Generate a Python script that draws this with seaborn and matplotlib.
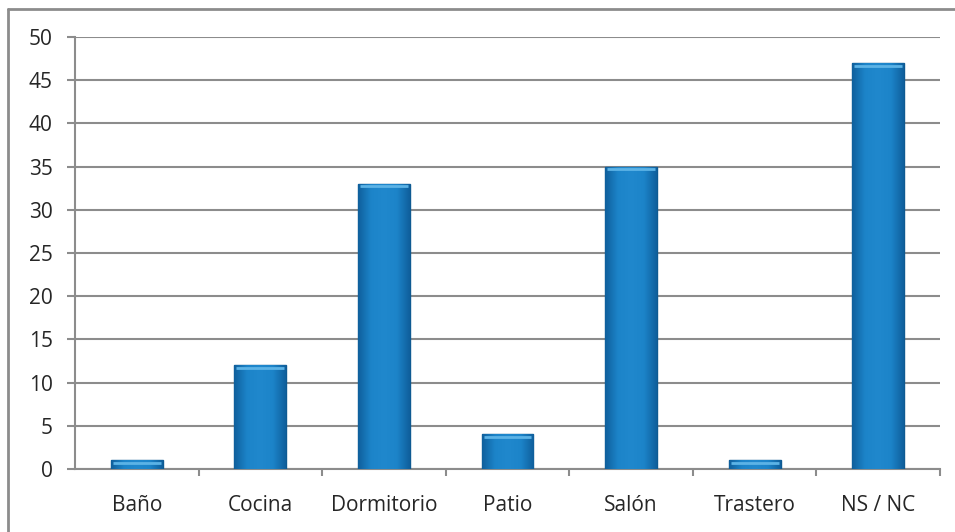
import matplotlib
matplotlib.use("Agg")
import matplotlib.pyplot as plt
import seaborn as sns
import numpy as np
import pandas as pd
from matplotlib.lines import Line2D
from matplotlib.colors import LinearSegmentedColormap

categories = ["Baño", "Cocina", "Dormitorio", "Patio", "Salón", "Trastero", "NS / NC"]
values = [1, 12, 33, 4, 35, 1, 47]
yticks = [0, 5, 10, 15, 20, 25, 30, 35, 40, 45, 50]

sns.set_theme(style="white")
plt.rcParams['font.family'] = ['Open Sans', 'DejaVu Sans']

df = pd.DataFrame({"cat": categories, "val": values})

fig = plt.figure(figsize=(9.55, 5.32), dpi=100)
ax = fig.add_axes([75/955, 1-469/532, (940-75)/955, (469-37)/532])

sns.barplot(data=df, x="cat", y="val", color="#1b80c6", width=0.42,
            edgecolor="#0e5a92", linewidth=1.0, ax=ax, zorder=3, saturation=1)

ax.set_ylim(0, 50)
ax.set_xlim(-0.5, len(categories) - 0.5)
ax.set_yticks(yticks)
ax.set_xlabel("")
ax.set_ylabel("")

# gradient overlay on bars
cmap = LinearSegmentedColormap.from_list("bev", ["#0f5f9c", "#1c84c9", "#2088cd", "#1c84c9", "#0f5f9c"])
grad = np.linspace(0, 1, 256).reshape(1, -1)
for p in ax.patches:
    x0, y0 = p.get_x(), p.get_y()
    w, h = p.get_width(), p.get_height()
    im = ax.imshow(grad, cmap=cmap, extent=[x0, x0 + w, y0, y0 + h], aspect="auto",
                   zorder=3.5, interpolation="bicubic")
    im.set_clip_path(p)
    # top bevel highlight
    ax.add_line(Line2D([x0 + w*0.04, x0 + w*0.96], [y0 + h - 0.3, y0 + h - 0.3],
                       color="#5cb3e6", lw=2, zorder=4, solid_capstyle="butt"))
ax.set_xlim(-0.5, len(categories) - 0.5)
ax.set_ylim(0, 50)

ax.yaxis.grid(True, color="#8c8c8c", linewidth=1.5, zorder=0)
ax.xaxis.grid(False)
for s in ["top", "right"]:
    ax.spines[s].set_visible(False)
ax.spines["left"].set_color("#8c8c8c")
ax.spines["left"].set_linewidth(1.5)
ax.spines["bottom"].set_color("#8c8c8c")
ax.spines["bottom"].set_linewidth(1.5)

# category boundary ticks
ax.set_xticks(np.arange(len(categories)))
ax.set_xticklabels(categories)
ax.set_xticks(np.arange(len(categories)) + 0.5, minor=True)
ax.tick_params(axis="x", which="major", length=0, pad=19, labelsize=15, labelcolor="#262626")
ax.tick_params(axis="x", which="minor", length=5, width=1.5, color="#8c8c8c", direction="out", bottom=True)
ax.tick_params(axis="y", length=6, width=1.5, color="#8c8c8c", direction="out", left=True,
               pad=10, labelsize=15, labelcolor="#262626")

# outer chart border (left and top visible)
fig.add_artist(Line2D([8/955, 8/955], [0, 1-9/532], transform=fig.transFigure,
                      color="#8c8c8c", lw=2))
fig.add_artist(Line2D([8/955, 1], [1-9/532, 1-9/532], transform=fig.transFigure,
                      color="#8c8c8c", lw=2))

fig.savefig("out.png", dpi=100)
